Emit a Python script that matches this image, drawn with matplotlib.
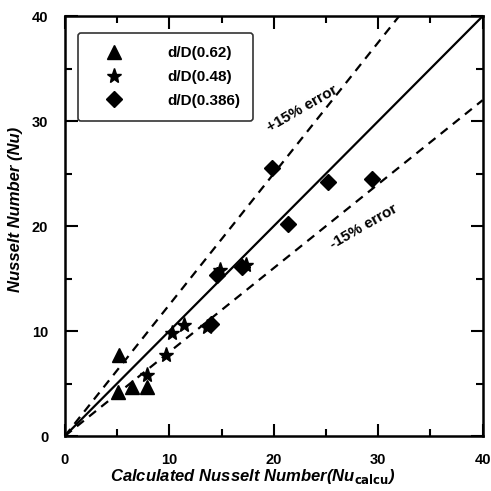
import matplotlib
matplotlib.use('Agg')
import matplotlib.pyplot as plt
import numpy as np

plt.rcParams['font.family'] = ['Liberation Sans', 'DejaVu Sans']
plt.rcParams['font.weight'] = 'bold'

# data
tri_x = [5.2, 5.1, 6.4, 7.9]
tri_y = [7.7, 4.2, 4.7, 4.7]

star_x = [7.9, 9.7, 10.3, 11.4, 13.6, 14.9, 17.3]
star_y = [5.8, 7.7, 9.8, 10.6, 10.4, 15.8, 16.3]

dia_x = [14.0, 14.6, 17.0, 21.4, 25.2, 19.8, 29.4]
dia_y = [10.7, 15.3, 16.1, 20.2, 24.2, 25.5, 24.5]

labels = ['d/D(0.62)', 'd/D(0.48)', 'd/D(0.386)']
upper_slope = 1.25
lower_slope = 0.8

fig = plt.figure(figsize=(4.91, 4.91), dpi=100)
ax = fig.add_axes([0.132, 0.112, 0.851, 0.855])

line = np.array([0, 40])
ax.plot(line, line, color='black', lw=1.6)
ax.plot(line, upper_slope * line, color='black', lw=1.6, ls=(0, (4, 3)))
ax.plot(line, lower_slope * line, color='black', lw=1.6, ls=(0, (4, 3)))

ax.plot(tri_x, tri_y, '^', color='black', ms=10, ls='none', label=labels[0])
ax.plot(star_x, star_y, '*', color='black', ms=11, ls='none', label=labels[1])
ax.plot(dia_x, dia_y, 'D', color='black', ms=8, ls='none', label=labels[2])

ax.text(22.7, 31.2, '+15% error', rotation=30, ha='center', va='center', fontsize=11, fontweight='bold')
ax.text(28.6, 19.9, '-15% error', rotation=30, ha='center', va='center', fontsize=11, fontweight='bold')

ax.set_xlim(0, 40)
ax.set_ylim(0, 40)
ax.set_xticks([0, 10, 20, 30, 40])
ax.set_yticks([0, 10, 20, 30, 40])
ax.set_xticks([5, 15, 25, 35], minor=True)
ax.set_yticks([5, 15, 25, 35], minor=True)
ax.tick_params(which='both', direction='in', top=True, right=True, width=1.5, labelsize=10.5)
ax.tick_params(which='major', length=9, pad=12)
ax.tick_params(which='minor', length=5)
for s in ax.spines.values():
    s.set_linewidth(1.8)

ax.set_xlabel(r'Calculated Nusselt Number(Nu$_{\mathbf{calcu}}$)', fontsize=12,
              fontweight='bold', style='italic', labelpad=-4)
ax.xaxis.set_label_coords(0.45, -0.075)
ax.set_ylabel('Nusselt Number (Nu)', fontsize=12, fontweight='bold', style='italic')
ax.yaxis.set_label_coords(-0.1, 0.54)

leg = ax.legend(loc='upper left', bbox_to_anchor=(0.031, 0.96), borderaxespad=0,
                frameon=True, fancybox=True, edgecolor='black', fontsize=11,
                handletextpad=2.0, borderpad=0.85, labelspacing=0.65,
                markerfirst=True, handlelength=3.0)
leg.get_frame().set_linewidth(1.2)
for t in leg.get_texts():
    t.set_fontweight('bold')

fig.savefig('out.png', dpi=100)
